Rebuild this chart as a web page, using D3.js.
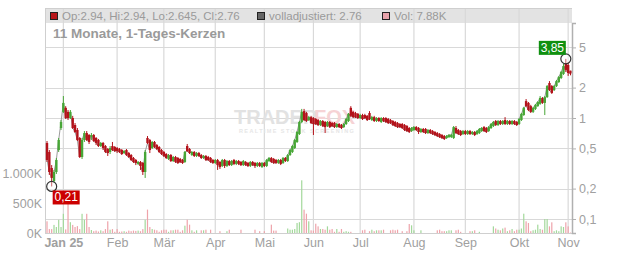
<!DOCTYPE html>
<html><head><meta charset="utf-8">
<script src="https://cdn.jsdelivr.net/npm/d3@7"></script>
<style>
html,body{margin:0;padding:0;background:#fff;}
svg{display:block;font-family:"Liberation Sans",Arial,sans-serif;}
</style></head>
<body><svg id="c" width="632" height="253"></svg>
<script>
const open = [0.566,0.461,0.320,0.238,0.292,0.482,0.796,1.15,1.26,1.15,
 1.00,1.00,0.852,0.761,0.634,0.411,0.606,0.710,0.679,0.648,
 0.679,0.634,0.606,0.528,0.566,0.528,0.493,0.461,0.528,0.516,
 0.505,0.493,0.482,0.450,0.482,0.450,0.430,0.402,0.384,0.351,
 0.367,0.359,0.292,0.634,0.606,0.505,0.579,0.540,0.516,0.482,
 0.461,0.440,0.393,0.430,0.375,0.411,0.402,0.393,0.384,0.367,
 0.528,0.493,0.430,0.461,0.421,0.450,0.430,0.402,0.421,0.411,
 0.402,0.384,0.359,0.384,0.367,0.335,0.384,0.335,0.375,0.342,
 0.384,0.351,0.375,0.367,0.342,0.367,0.359,0.335,0.367,0.359,
 0.335,0.359,0.327,0.359,0.335,0.375,0.402,0.393,0.384,0.359,
 0.384,0.359,0.402,0.375,0.430,0.461,0.505,0.579,0.694,0.913,
 1.17,1.12,0.955,1.02,1.00,0.977,0.955,0.852,0.934,0.913,
 0.833,0.913,0.892,0.892,0.814,0.872,0.852,0.814,0.872,0.934,
 1.26,1.15,1.12,1.10,1.00,1.07,1.07,1.05,1.12,0.955,
 1.02,0.934,1.00,0.913,1.00,1.00,0.977,0.955,0.934,0.913,
 0.892,0.872,0.872,0.852,0.833,0.796,0.743,0.761,0.814,0.796,
 0.727,0.778,0.778,0.710,0.761,0.743,0.727,0.710,0.694,0.679,
 0.663,0.634,0.648,0.648,0.634,0.796,0.761,0.743,0.694,0.743,
 0.694,0.743,0.694,0.727,0.694,0.710,0.743,0.814,0.796,0.743,
 0.796,0.833,0.934,0.852,0.934,0.872,0.955,0.872,0.934,0.872,
 0.934,0.913,0.872,0.955,1.07,1.47,1.41,1.31,1.15,1.23,
 1.31,1.38,1.58,1.41,1.61,2.22,2.07,1.89,2.07,2.27,
 2.49,2.73,3.50,3.35,2.94];
const close = [0.384,0.292,0.255,0.292,0.384,0.606,0.913,1.41,1.00,1.00,
 1.15,0.796,0.727,0.606,0.411,0.606,0.710,0.606,0.579,0.679,
 0.592,0.566,0.528,0.566,0.505,0.461,0.450,0.505,0.482,0.471,
 0.471,0.461,0.440,0.471,0.430,0.411,0.384,0.367,0.359,0.367,
 0.335,0.292,0.461,0.566,0.482,0.579,0.516,0.493,0.461,0.440,
 0.421,0.402,0.430,0.375,0.411,0.367,0.359,0.367,0.359,0.461,
 0.471,0.450,0.461,0.421,0.450,0.421,0.402,0.421,0.384,0.384,
 0.367,0.359,0.384,0.342,0.327,0.384,0.335,0.375,0.342,0.375,
 0.351,0.375,0.351,0.342,0.375,0.342,0.335,0.367,0.342,0.335,
 0.359,0.335,0.359,0.335,0.384,0.402,0.367,0.359,0.359,0.384,
 0.351,0.402,0.375,0.430,0.482,0.528,0.606,0.727,0.913,1.15,
 0.955,0.934,1.02,0.892,0.872,0.872,0.852,0.934,0.833,0.814,
 0.913,0.814,0.833,0.814,0.872,0.814,0.796,0.872,0.977,1.10,
 1.05,1.02,1.02,1.00,1.07,0.977,1.00,0.955,0.977,1.02,
 0.934,1.00,0.934,1.00,0.934,0.913,0.892,0.892,0.852,0.833,
 0.814,0.814,0.796,0.761,0.743,0.727,0.796,0.814,0.761,0.727,
 0.778,0.727,0.710,0.761,0.710,0.694,0.679,0.663,0.648,0.634,
 0.620,0.663,0.679,0.679,0.814,0.710,0.694,0.679,0.743,0.694,
 0.743,0.694,0.727,0.679,0.743,0.778,0.796,0.743,0.727,0.814,
 0.872,0.913,0.852,0.934,0.872,0.934,0.872,0.934,0.872,0.934,
 0.872,0.852,0.977,1.10,1.26,1.31,1.20,1.15,1.26,1.35,
 1.44,1.58,1.41,1.61,2.07,1.89,1.77,2.07,2.32,2.55,
 2.85,3.27,2.99,2.79,2.76];
const high = [0.592,0.482,0.342,0.306,0.402,0.634,0.955,1.65,1.31,1.20,
 1.20,1.05,0.892,0.796,0.648,0.634,0.743,0.743,0.694,0.710,
 0.694,0.648,0.620,0.579,0.579,0.540,0.505,0.528,0.579,0.528,
 0.516,0.505,0.493,0.482,0.493,0.461,0.440,0.411,0.393,0.375,
 0.375,0.367,0.482,0.663,0.620,0.592,0.592,0.553,0.528,0.493,
 0.471,0.450,0.440,0.440,0.421,0.421,0.411,0.402,0.393,0.471,
 0.553,0.505,0.471,0.471,0.461,0.461,0.440,0.430,0.430,0.421,
 0.411,0.393,0.393,0.393,0.375,0.393,0.393,0.384,0.384,0.384,
 0.393,0.384,0.384,0.375,0.384,0.375,0.367,0.375,0.375,0.367,
 0.367,0.367,0.367,0.367,0.393,0.411,0.411,0.402,0.393,0.393,
 0.393,0.411,0.411,0.440,0.493,0.540,0.620,0.743,0.934,1.23,
 1.23,1.15,1.05,1.05,1.02,1.00,0.977,0.955,0.955,0.934,
 0.934,0.934,0.913,0.913,0.892,0.892,0.872,0.892,1.00,1.12,
 1.31,1.17,1.15,1.12,1.10,1.10,1.10,1.07,1.17,1.05,
 1.05,1.02,1.02,1.02,1.02,1.02,1.00,0.977,0.955,0.934,
 0.913,0.892,0.892,0.872,0.852,0.814,0.814,0.833,0.833,0.814,
 0.796,0.796,0.796,0.778,0.778,0.761,0.743,0.727,0.710,0.694,
 0.679,0.679,0.694,0.694,0.833,0.833,0.778,0.761,0.761,0.761,
 0.761,0.761,0.743,0.743,0.761,0.796,0.814,0.833,0.814,0.833,
 0.892,0.934,0.955,0.955,0.955,0.955,1.02,0.955,0.955,0.955,
 0.955,0.934,1.00,1.12,1.29,1.54,1.44,1.35,1.29,1.38,
 1.47,1.65,1.61,1.65,2.12,2.32,2.12,2.12,2.38,2.61,
 2.92,3.43,3.85,3.59,2.94];
const low = [0.367,0.273,0.210,0.227,0.279,0.461,0.761,1.12,0.977,0.955,
 0.977,0.778,0.710,0.592,0.402,0.393,0.579,0.592,0.553,0.606,
 0.579,0.540,0.516,0.516,0.482,0.450,0.421,0.440,0.471,0.461,
 0.450,0.450,0.430,0.440,0.421,0.402,0.375,0.359,0.342,0.342,
 0.306,0.273,0.255,0.553,0.450,0.493,0.505,0.482,0.450,0.430,
 0.411,0.393,0.384,0.367,0.367,0.359,0.351,0.359,0.351,0.359,
 0.461,0.440,0.421,0.411,0.411,0.411,0.393,0.393,0.375,0.375,
 0.359,0.351,0.351,0.306,0.313,0.327,0.320,0.327,0.335,0.335,
 0.342,0.342,0.342,0.335,0.335,0.335,0.327,0.327,0.335,0.320,
 0.327,0.327,0.320,0.327,0.327,0.367,0.359,0.351,0.351,0.351,
 0.342,0.351,0.367,0.367,0.421,0.450,0.493,0.566,0.679,0.892,
 0.934,0.913,0.934,0.872,0.679,0.852,0.833,0.833,0.814,0.710,
 0.814,0.796,0.814,0.796,0.796,0.796,0.778,0.796,0.852,0.913,
 1.02,1.00,1.00,0.977,0.977,0.955,0.977,0.934,0.955,0.934,
 0.913,0.913,0.913,0.892,0.913,0.892,0.872,0.872,0.833,0.814,
 0.796,0.796,0.778,0.743,0.727,0.710,0.727,0.743,0.743,0.694,
 0.710,0.710,0.694,0.694,0.694,0.679,0.663,0.648,0.634,0.620,
 0.606,0.620,0.634,0.634,0.620,0.694,0.679,0.663,0.679,0.679,
 0.679,0.679,0.679,0.663,0.679,0.694,0.727,0.727,0.710,0.727,
 0.778,0.814,0.833,0.833,0.852,0.852,0.852,0.852,0.852,0.852,
 0.852,0.833,0.852,0.934,1.05,1.29,1.17,1.12,1.12,1.20,
 1.29,1.35,1.38,1.07,1.58,1.85,1.73,1.85,2.03,2.22,
 2.43,2.67,2.85,2.61,2.645];
// volume in thousands of shares
const volumeK = [195,65,65,135,100,220,100,320,60,500,
 180,135,100,115,65,320,220,320,100,50,
 30,40,25,45,30,65,195,55,65,20,
 65,20,25,30,20,40,30,40,35,40,
 30,65,220,390,100,67,55,45,20,45,
 55,55,20,45,45,55,55,20,45,122,
 222,139,45,20,45,0,45,45,55,0,
 55,0,0,0,30,0,0,30,55,0,
 0,0,0,55,0,0,0,0,0,55,
 0,30,0,30,0,0,139,40,40,0,
 0,0,0,75,55,55,67,167,180,878,
 389,322,195,45,40,155,111,67,67,55,
 111,55,67,20,67,20,67,20,30,20,
 20,0,0,0,0,45,55,0,30,55,
 30,45,45,45,55,0,0,45,55,45,
 55,0,30,0,30,150,128,45,0,0,
 45,0,0,0,0,0,0,45,55,30,
 30,30,45,45,0,45,55,20,0,0,
 0,30,30,45,0,20,0,0,0,0,
 0,111,75,55,45,75,90,30,45,67,
 30,55,55,75,322,195,167,30,45,55,
 139,67,55,233,233,111,178,30,45,30,
 111,100,178,111,7.88];
const monthLabels = ["Jan 25","Feb","Mär","Apr","Mai","Jun","Jul","Aug","Sep","Okt","Nov"];
const monthStartIndex = [7,30,50,72,93,114,134,157,179,202,223];
const priceTicks = [0.1,0.2,0.5,1,2,5];
const volumeTicks = [0,500000,1000000];
const legendTexts = ["Op:2.94, Hi:2.94, Lo:2.645, Cl:2.76","volladjustiert: 2.76","Vol: 7.88K"];
const titleText = "11 Monate, 1-Tages-Kerzen";

const N = close.length;
const svg = d3.select("#c");
const L = 45, R = 572, T = 8, B = 233;
const x = d3.scaleLinear().domain([0, N-1]).range([47, 570.5]);
const yP = d3.scaleLog().domain([0.0727, 8.72]).range([B, 23]);
const yV = d3.scaleLinear().domain([0, 3500000]).range([B, 23]);
const RED = "#b3121a", GREEN = "#47a636";

// legend bar background
svg.append("rect").attr("x", L).attr("y", T).attr("width", R-L).attr("height", 15)
  .attr("fill", "#e3e3e3");

// grid
const grid = svg.append("g").attr("stroke", "#d9d9d9").attr("stroke-width", 1.2);
grid.selectAll("line.h").data(priceTicks).join("line")
  .attr("x1", L).attr("x2", R).attr("y1", d => Math.round(yP(d))+0.5).attr("y2", d => Math.round(yP(d))+0.5);
grid.selectAll("line.v").data(monthStartIndex).join("line")
  .attr("x1", d => x(d)).attr("x2", d => x(d)).attr("y1", T).attr("y2", B);
// frame
svg.append("line").attr("x1", L+0.5).attr("x2", L+0.5).attr("y1", T).attr("y2", B).attr("stroke", "#cfcfcf");
svg.append("line").attr("x1", L).attr("x2", R).attr("y1", T+0.5).attr("y2", T+0.5).attr("stroke", "#cfcfcf");
svg.append("line").attr("x1", L).attr("x2", R).attr("y1", B+0.5).attr("y2", B+0.5).attr("stroke", "#cfcfcf");

// watermark
const wm = svg.append("g").attr("font-weight", "bold");
wm.append("text").attr("x", 234).attr("y", 124).attr("font-size", 20).attr("fill", "#e2e2e2").text("TRADER");
wm.append("text").attr("x", 314).attr("y", 124).attr("font-size", 20).attr("fill", "#f6d3d5").text("FOX");
wm.append("text").attr("x", 239).attr("y", 133).attr("font-size", 5.5).attr("letter-spacing", 1.4).attr("fill", "#e6e6e6").text("REALTIME STOCK SCREENING");

// legend
const lg = svg.append("g").attr("font-size", 11.5).attr("fill", "#9a9a9a");
const legItems = [{x:50, c:"#b8161a"},{x:257, c:"#666"},{x:382, c:"#e8a3ab"}];
legItems.forEach((it, i) => {
  lg.append("rect").attr("x", it.x+0.5).attr("y", 12.5).attr("width", 7).attr("height", 7)
    .attr("fill", it.c).attr("stroke", "#222").attr("stroke-width", 1);
  lg.append("text").attr("x", it.x+12).attr("y", 20).text(legendTexts[i]);
});
svg.append("text").attr("x", 53).attr("y", 38).attr("font-size", 13.5).attr("font-weight", "bold")
  .attr("fill", "#9a9a9a").text(titleText);

// volume bars
const idx = d3.range(N);
svg.append("g").selectAll("rect").data(idx).join("rect")
  .attr("x", i => x(i) - 0.6).attr("width", 1.2)
  .attr("y", i => yV(volumeK[i]*1000)).attr("height", i => B - yV(volumeK[i]*1000))
  .attr("fill", i => close[i] >= open[i] ? "#a3d89b" : "#eea3aa");

// close line
svg.append("path").datum(close)
  .attr("d", d3.line().x((d,i) => x(i)).y(d => yP(d)))
  .attr("fill", "none").attr("stroke", "#9c9c9c").attr("stroke-width", 1);

// candles
const cg = svg.append("g");
cg.selectAll("line").data(idx).join("line")
  .attr("x1", i => x(i)).attr("x2", i => x(i))
  .attr("y1", i => yP(high[i])).attr("y2", i => yP(low[i]))
  .attr("stroke", i => close[i] >= open[i] ? GREEN : RED).attr("stroke-width", 1);
cg.selectAll("rect").data(idx).join("rect")
  .attr("x", i => x(i) - 1.2).attr("width", 2.4)
  .attr("y", i => yP(Math.max(open[i], close[i])))
  .attr("height", i => Math.max(1, Math.abs(yP(open[i]) - yP(close[i]))))
  .attr("fill", i => close[i] >= open[i] ? GREEN : RED);

// axes
const fmtP = d => String(d).replace(".", ",");
const ra = svg.append("g").attr("transform", `translate(${R},0)`)
  .call(d3.axisRight(yP).tickValues(priceTicks).tickFormat(fmtP).tickSize(4).tickPadding(3));
ra.select(".domain").attr("stroke", "#b0b0b0").attr("stroke-width", 1.5);
ra.selectAll(".tick line").attr("stroke", "#b0b0b0");
ra.selectAll("text").attr("fill", "#a0a0a0").attr("font-size", 12.5).attr("font-family", "Liberation Sans, Arial, sans-serif");

const fmtV = d => d3.format(",")(d/1000).replace(/,/g, ".") + "K";
const la = svg.append("g").attr("transform", `translate(${L},0)`)
  .call(d3.axisLeft(yV).tickValues(volumeTicks).tickFormat(fmtV).tickSize(0).tickPadding(3));
la.select(".domain").remove();
la.selectAll("text").attr("fill", "#a0a0a0").attr("font-size", 12.5).attr("font-family", "Liberation Sans, Arial, sans-serif");

const ba = svg.append("g").attr("transform", `translate(0,${B})`)
  .call(d3.axisBottom(x).tickValues(monthStartIndex).tickFormat((d,i) => monthLabels[i]).tickSize(0).tickPadding(5));
ba.select(".domain").remove();
ba.selectAll("text").attr("fill", "#a0a0a0").attr("font-size", 12.5).attr("font-family", "Liberation Sans, Arial, sans-serif")
  .attr("font-weight", (d,i) => i === 0 ? "bold" : "normal");

// extreme markers
const iLo = d3.minIndex(low), iHi = d3.maxIndex(high);
const fmt2 = v => v.toFixed(2).replace(".", ",");
const mk = svg.append("g");
const markers = [
  {i: iLo, v: low[iLo], col: "#cc0000", dir: 1},
  {i: iHi, v: high[iHi], col: "#109010", dir: -1}
];
markers.forEach(m => {
  const cx = x(m.i), cy = yP(m.v);
  mk.append("circle").attr("cx", cx).attr("cy", cy).attr("r", 5)
    .attr("fill", "rgba(255,255,255,0.35)").attr("stroke", "#333").attr("stroke-width", 1.2);
  const bx = m.dir > 0 ? cx + 1 : cx - 27, by = m.dir > 0 ? cy + 4 : cy - 18;
  mk.append("rect").attr("x", bx).attr("y", by).attr("width", 27).attr("height", 14).attr("fill", m.col);
  mk.append("text").attr("x", bx + 13.5).attr("y", by + 11).attr("text-anchor", "middle")
    .attr("font-size", 12).attr("fill", "#fff").text(fmt2(m.v));
});
</script></body></html>
